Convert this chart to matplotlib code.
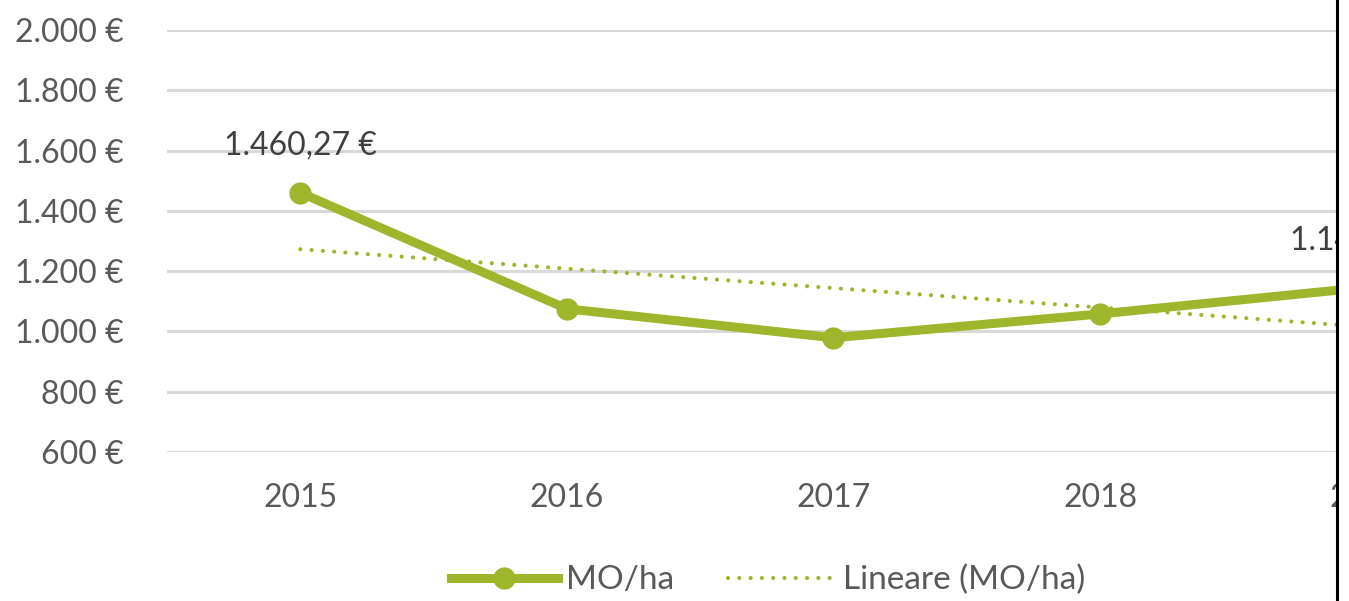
import matplotlib
matplotlib.use("Agg")
import matplotlib.pyplot as plt
import numpy as np
from matplotlib.lines import Line2D
from matplotlib.patches import Rectangle

years = ["2015", "2016", "2017", "2018", "2019"]
values = [1460.27, 1075.0, 979.0, 1058.0, 1146.5]
yticks = [600, 800, 1000, 1200, 1400, 1600, 1800, 2000]
labels_shown = {0: "1.460,27 €", 4: "1.146,50 €"}

GREEN = "#9DB62B"
GREY = "#595959"
GRID = "#D9D9D9"
FONT = ["Lato", "DejaVu Sans"]
FS = 23

W, H = 1349, 601
fig = plt.figure(figsize=(W / 100, H / 100), dpi=100)
left, right = 167, 1500
top, bottom = 30, 452
ax = fig.add_axes([left / W, 1 - bottom / H, (right - left) / W, (bottom - top) / H])

x = np.arange(len(years))
ax.set_xlim(-0.5, len(years) - 0.5)
ax.set_ylim(600, 2000)
for t in yticks:
    ax.axhline(t, color=GRID, lw=2.2, zorder=1)

DOTS = (0, (0.01, 2.7))
# trend line
coef = np.polyfit(x, values, 1)
ax.plot(x, np.polyval(coef, x), color=GREEN, lw=3, ls=DOTS,
        dash_capstyle="round", zorder=2)
ax.plot(x, values, color=GREEN, lw=6.5, marker="o", ms=15, zorder=3,
        solid_capstyle="butt")

for i, lab in labels_shown.items():
    ax.annotate(lab, (x[i], values[i]), xytext=(0, 23), textcoords="offset points",
                ha="center", va="bottom", fontsize=FS, color="#404040", family=FONT)

ax.set_yticks(yticks)
ax.set_yticklabels([f"{t:,}".replace(",", ".") + " €" for t in yticks],
                   fontsize=FS, color=GREY, family=FONT)
ax.set_xticks(x)
ax.set_xticklabels(years, fontsize=FS, color=GREY, family=FONT)
ax.tick_params(axis="y", length=0, pad=31)
ax.tick_params(axis="x", length=0, pad=22)
for s in ax.spines.values():
    s.set_visible(False)

handles = [Line2D([], [], color=GREEN, lw=6.5, marker="o", ms=15),
           Line2D([], [], color=GREEN, lw=3, ls=DOTS, dash_capstyle="round")]
fig.legend(handles, ["MO/ha", "Lineare (MO/ha)"], loc="center",
           bbox_to_anchor=(768 / W, 1 - 580 / H), ncol=2, frameon=False,
           prop={"family": FONT, "size": 24}, labelcolor=GREY,
           handlelength=3.2, columnspacing=1.6, handletextpad=0.25)

# right crop border
fig.add_artist(Rectangle((1338.5 / W, 0), 1, 1, transform=fig.transFigure,
                         facecolor="white", edgecolor="none", zorder=10))
fig.add_artist(Line2D([1337 / W, 1337 / W], [0, 1], transform=fig.transFigure,
                      color="black", lw=2.2, zorder=11))

fig.savefig("out.png", dpi=100)
